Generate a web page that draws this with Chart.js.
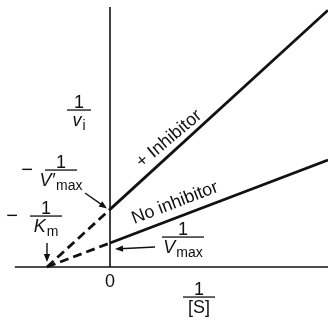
<!DOCTYPE html>
<html>
<head>
<meta charset="utf-8">
<script src="https://cdn.jsdelivr.net/npm/chart.js@4"></script>
<style>
  body { margin: 0; background: #fff; }
  #wrap { width: 328px; height: 321px; position: relative; }
</style>
</head>
<body>
<div id="wrap"><canvas id="plot"></canvas></div>
<script>
// 1/[S] values: -1/Km, 0, right edge of plot
const invS = [-1, 0, 3.46];
// 1/v values for each line
const noInhibitor = [0, 1, 4.46];
const withInhibitor = [0, 2.4, 10.7];
// axis extents (data units)
const xAxisRange = [-1.51, 3.46];
const yAxisRange = [0, 10.83];

const ink = '#111';
const FONT = '"Liberation Sans", Arial, sans-serif';

const toPoints = ys => invS.map((x, i) => ({ x: x, y: ys[i] }));

// first segment (left of y axis) is the dashed extrapolation
const dashFirst = ctx => ctx.p0DataIndex === 0 ? [9, 5] : undefined;

function arrow(ctx, x1, y1, x2, y2) {
    const a = Math.atan2(y2 - y1, x2 - x1);
    const len = 8, w = 3.2;
    ctx.beginPath();
    ctx.moveTo(x1, y1);
    ctx.lineTo(x2 - Math.cos(a) * len * 0.6, y2 - Math.sin(a) * len * 0.6);
    ctx.lineWidth = 1.4;
    ctx.stroke();
    ctx.beginPath();
    ctx.moveTo(x2, y2);
    ctx.lineTo(x2 - Math.cos(a) * len + Math.sin(a) * w, y2 - Math.sin(a) * len - Math.cos(a) * w);
    ctx.lineTo(x2 - Math.cos(a) * len - Math.sin(a) * w, y2 - Math.sin(a) * len + Math.cos(a) * w);
    ctx.closePath();
    ctx.fill();
}

// fraction "num / den" centred on cx with the bar at y
function fraction(ctx, cx, y, barW, num, den, sub, italic) {
    const denFont = (italic ? 'italic ' : '') + '18px ' + FONT;
    ctx.font = '18px ' + FONT;
    ctx.textAlign = 'center';
    ctx.textBaseline = 'alphabetic';
    ctx.fillText(num, cx, y - 2);
    ctx.fillRect(cx - barW / 2, y - 0.6, barW, 1.3);
    ctx.font = denFont;
    const dw = ctx.measureText(den).width;
    ctx.font = '14px ' + FONT;
    const sw = sub ? ctx.measureText(sub).width + 1 : 0;
    const left = cx - (dw + sw) / 2;
    ctx.textAlign = 'left';
    ctx.font = denFont;
    ctx.fillText(den, left, y + 16);
    if (sub) {
        ctx.font = '14px ' + FONT;
        ctx.fillText(sub, left + dw + 1, y + 20);
    }
}

const labels = {
    id: 'labels',
    afterDatasetsDraw(chart) {
        const ctx = chart.ctx;
        const xs = chart.scales.x, ys = chart.scales.y;
        const ox = xs.getPixelForValue(0), oy = ys.getPixelForValue(0);
        const km = xs.getPixelForValue(invS[0]);
        const vNo = ys.getPixelForValue(noInhibitor[1]);
        const vIn = ys.getPixelForValue(withInhibitor[1]);
        ctx.save();
        ctx.fillStyle = ink;
        ctx.strokeStyle = ink;

        fraction(ctx, ox - 31, oy - 157, 24, '1', 'v', 'i', true);
        fraction(ctx, ox - 49, oy - 97, 32, '1', 'V\u2032', 'max', true);
        fraction(ctx, ox - 64, oy - 51, 32, '1', 'K', 'm', true);
        fraction(ctx, ox + 73, oy - 30, 42, '1', 'V', 'max', true);
        fraction(ctx, ox + 89, oy + 30, 32, '1', '[S]', '', false);

        ctx.font = '20px ' + FONT;
        ctx.textAlign = 'center';
        ctx.fillText('\u2212', ox - 83, oy - 91);
        ctx.fillText('\u2212', ox - 98, oy - 45);
        ctx.font = '18px ' + FONT;
        ctx.fillText('0', ox, oy + 20);

        ctx.save();
        ctx.translate(ox + 59, oy - 128);
        ctx.rotate(-40 * Math.PI / 180);
        ctx.textBaseline = 'middle';
        ctx.fillText('+ Inhibitor', 0, 0);
        ctx.restore();

        ctx.save();
        ctx.translate(ox + 65, oy - 64);
        ctx.rotate(-21 * Math.PI / 180);
        ctx.textBaseline = 'middle';
        ctx.fillText('No inhibitor', 0, 0);
        ctx.restore();

        arrow(ctx, ox - 25, oy - 74, ox - 3, vIn - 1);
        arrow(ctx, km, oy - 24, km, oy - 5);
        arrow(ctx, ox + 45, oy - 20, ox + 5, vNo + 6);
        ctx.restore();
    }
};

const lineStyle = {
    borderColor: ink,
    borderWidth: 2.8,
    pointRadius: 0,
    fill: false,
    tension: 0
};

new Chart(document.getElementById('plot'), {
    type: 'line',
    data: {
        datasets: [
            { ...lineStyle, borderWidth: 1.6,
              data: xAxisRange.map(x => ({ x: x, y: 0 })) },
            { ...lineStyle, borderWidth: 1.6,
              data: yAxisRange.map(y => ({ x: 0, y: y })) },
            { ...lineStyle, label: 'No inhibitor', data: toPoints(noInhibitor),
              segment: { borderDash: dashFirst } },
            { ...lineStyle, label: '+ Inhibitor', data: toPoints(withInhibitor),
              segment: { borderDash: dashFirst } }
        ]
    },
    options: {
        responsive: true,
        maintainAspectRatio: false,
        animation: false,
        layout: { padding: 0 },
        plugins: { legend: { display: false }, tooltip: { enabled: false } },
        scales: {
            x: { type: 'linear', display: false, min: -1.746, max: 3.46 },
            y: { type: 'linear', display: false, min: -2.25, max: 11.125 }
        }
    },
    plugins: [labels]
});
</script>
</body>
</html>
